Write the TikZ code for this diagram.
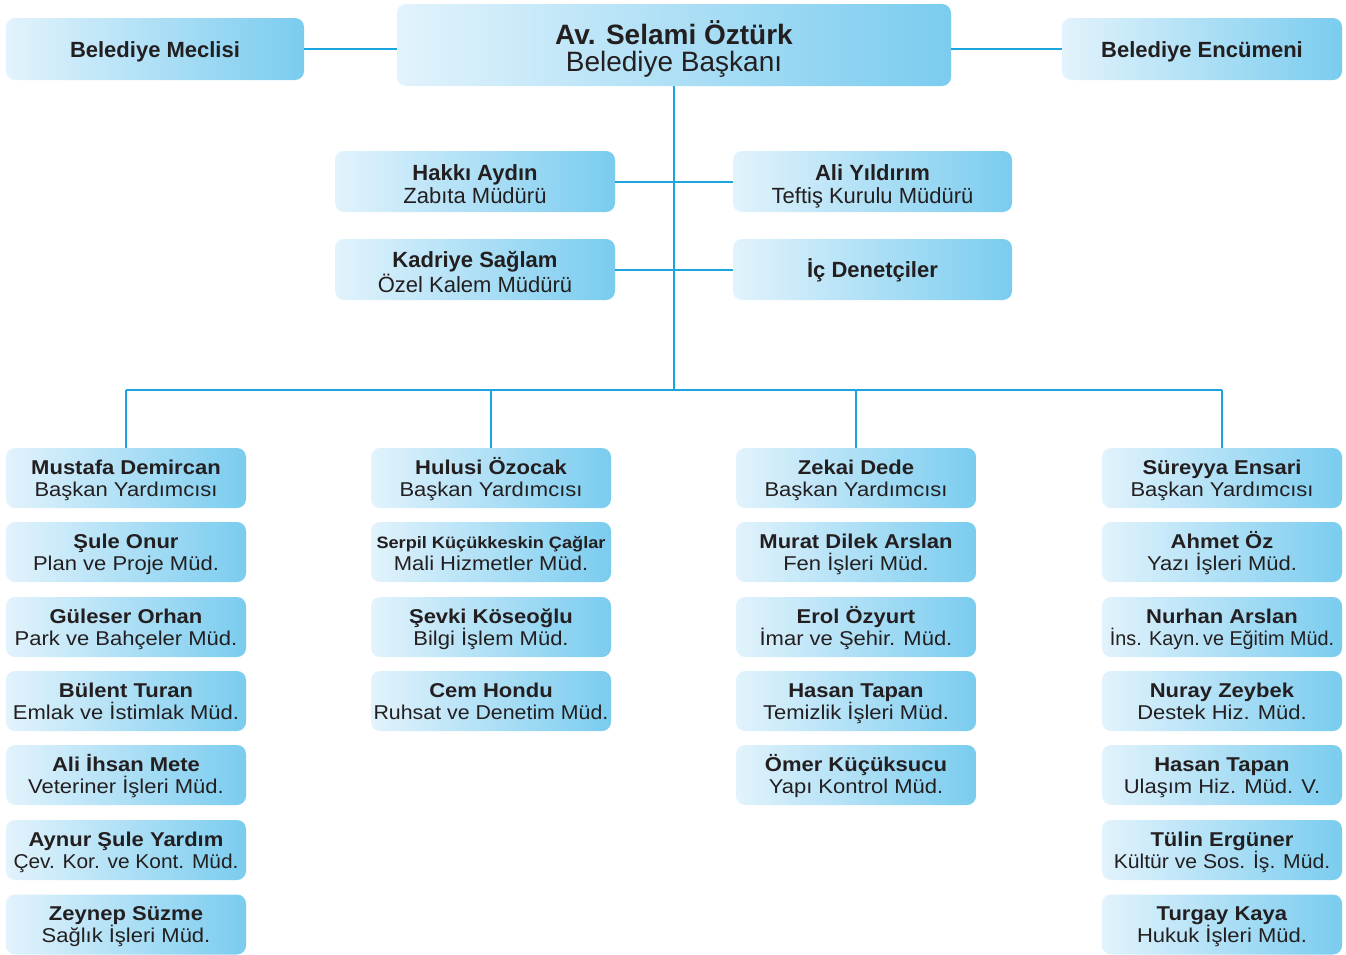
\documentclass[tikz,border=0pt]{standalone}
\usepackage{fontspec}
\setmainfont{Liberation Sans}
\newcommand\pn[3][1]{\rule{0pt}{20pt}\scalebox{1.1}[1]{\textbf{#2}}\\\scalebox{#1}[1]{\scalebox{1.1}[1]{#3}}\rule[-6pt]{0pt}{6pt}}
\newcommand\sn[2]{\rule{0pt}{27pt}\textbf{#1}\\#2\rule[-6pt]{0pt}{6pt}}
\begin{document}
\begin{tikzpicture}[x=1pt,y=-1pt,
  box/.style={rounded corners=9pt, left color=boxl, right color=boxr, draw=none,
    align=center, inner sep=0pt, text=txt, anchor=center},
  sbox/.style={box, minimum width=240pt, minimum height=60pt, font=\fontsize{20}{22}\selectfont},
  tbox/.style={box, minimum height=61pt, font=\fontsize{22}{23}\selectfont},
  one/.style={font=\fontsize{22}{24}\selectfont\bfseries, text height=16pt, text depth=0pt},
  conn/.style={draw=ln, line width=2pt}]
\definecolor{boxl}{HTML}{E2F3FC}
\definecolor{boxr}{HTML}{7ACCEF}
\definecolor{ln}{HTML}{1BA5DF}
\definecolor{txt}{HTML}{231F20}
\useasboundingbox (0,0) rectangle (1346,954);
% top row
\node[box, one, minimum width=298pt, minimum height=62pt] (meclis) at (155,49) {Belediye Meclisi};
\node[box, minimum width=554pt, minimum height=82pt, font=\fontsize{28}{27}\selectfont] (baskan) at (674,45) {\rule{0pt}{32pt}\textbf{Av. Selami Öztürk}\\Belediye Başkanı\rule[-7pt]{0pt}{7pt}};
\node[box, one, minimum width=280pt, minimum height=62pt] (encumen) at (1202,49) {Belediye Encümeni};
\draw[conn] (meclis.east) -- (meclis.east -| baskan.west);
\draw[conn] (encumen.west) -- (encumen.west -| baskan.east);
% staff
\node[tbox, minimum width=280pt] (hakki) at (475,181.5) {\sn{Hakkı Aydın}{Zabıta Müdürü}};
\node[tbox, minimum width=279pt] (ali) at (872.5,181.5) {\sn{Ali Yıldırım}{Teftiş Kurulu Müdürü}};
\node[tbox, minimum width=280pt] (kadriye) at (475,269.5) {\sn{Kadriye Sağlam}{Özel Kalem Müdürü}};
\node[box, one, minimum width=279pt, minimum height=61pt] (ic) at (872.5,269.5) {İç Denetçiler};
\draw[conn] (hakki.east) -- (ali.west);
\draw[conn] (kadriye.east) -- (ic.west);
% trunk and bus
\coordinate (bus) at (674,390);
\coordinate (busl) at (126,390);
\coordinate (busr) at (1222,390);
\draw[conn] (baskan.south) -- (bus);
\draw[conn] (busl) -- (busr);
% column 1
\node[sbox] (c1r1) at (126,478) {\pn{Mustafa Demircan}{Başkan Yardımcısı}};
\node[sbox] (c1r2) at (126,552) {\pn{Şule Onur}{Plan ve Proje Müd.}};
\node[sbox] (c1r3) at (126,627) {\pn{Güleser Orhan}{Park ve Bahçeler Müd.}};
\node[sbox] (c1r4) at (126,701) {\pn{Bülent Turan}{Emlak ve İstimlak Müd.}};
\node[sbox] (c1r5) at (126,775) {\pn{Ali İhsan Mete}{Veteriner İşleri Müd.}};
\node[sbox] (c1r6) at (126,850) {\pn[0.95]{Aynur Şule Yardım}{Çev. Kor. ve Kont. Müd.}};
\node[sbox] (c1r7) at (126,924.5) {\pn{Zeynep Süzme}{Sağlık İşleri Müd.}};
% column 2
\node[sbox] (c2r1) at (491,478) {\pn{Hulusi Özocak}{Başkan Yardımcısı}};
\node[sbox] (c2r2) at (491,552) {\pn{\fontsize{16.5}{22}\selectfont Serpil Küçükkeskin Çağlar}{Mali Hizmetler Müd.}};
\node[sbox] (c2r3) at (491,627) {\pn{Şevki Köseoğlu}{Bilgi İşlem Müd.}};
\node[sbox] (c2r4) at (491,701) {\pn[0.97]{Cem Hondu}{Ruhsat ve Denetim Müd.}};
% column 3
\node[sbox] (c3r1) at (856,478) {\pn{Zekai Dede}{Başkan Yardımcısı}};
\node[sbox] (c3r2) at (856,552) {\pn{Murat Dilek Arslan}{Fen İşleri Müd.}};
\node[sbox] (c3r3) at (856,627) {\pn{Erol Özyurt}{İmar ve Şehir. Müd.}};
\node[sbox] (c3r4) at (856,701) {\pn{Hasan Tapan}{Temizlik İşleri Müd.}};
\node[sbox] (c3r5) at (856,775) {\pn{Ömer Küçüksucu}{Yapı Kontrol Müd.}};
% column 4
\node[sbox] (c4r1) at (1222,478) {\pn{Süreyya Ensari}{Başkan Yardımcısı}};
\node[sbox] (c4r2) at (1222,552) {\pn{Ahmet Öz}{Yazı İşleri Müd.}};
\node[sbox] (c4r3) at (1222,627) {\pn[0.9]{Nurhan Arslan}{İns. Kayn.\,ve Eğitim Müd.}};
\node[sbox] (c4r4) at (1222,701) {\pn{Nuray Zeybek}{Destek Hiz. Müd.}};
\node[sbox] (c4r5) at (1222,775) {\pn{Hasan Tapan}{Ulaşım Hiz. Müd. V.}};
\node[sbox] (c4r6) at (1222,850) {\pn[0.96]{Tülin Ergüner}{Kültür ve Sos. İş. Müd.}};
\node[sbox] (c4r7) at (1222,924.5) {\pn{Turgay Kaya}{Hukuk İşleri Müd.}};
% drops
\draw[conn] (busl) -- (c1r1.north);
\draw[conn] (bus -| c2r1.north) -- (c2r1.north);
\draw[conn] (bus -| c3r1.north) -- (c3r1.north);
\draw[conn] (busr) -- (c4r1.north);
\end{tikzpicture}
\end{document}
